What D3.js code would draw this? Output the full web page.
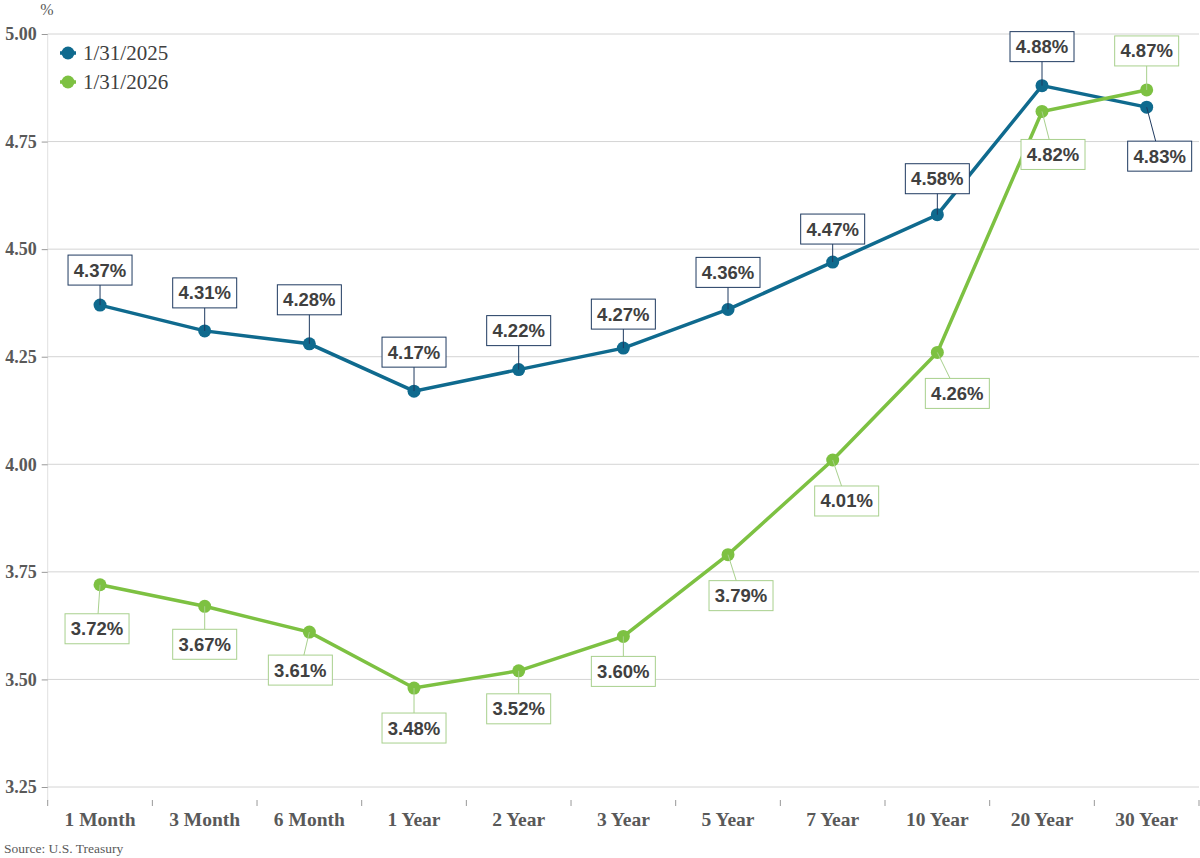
<!DOCTYPE html>
<html lang="en">
<head>
<meta charset="utf-8">
<title>Treasury Yield Curve</title>
<script src="https://d3js.org/d3.v7.min.js"></script>
<style>
  body { margin: 0; background: #fff; }
  .serif { font-family: "Liberation Serif", "DejaVu Serif", serif; }
</style>
</head>
<body>
<div id="chart"></div>
<script>
// categories and series values
const maturities = ["1 Month", "3 Month", "6 Month", "1 Year", "2 Year", "3 Year", "5 Year", "7 Year", "10 Year", "20 Year", "30 Year"]
const yields2025 = [4.37, 4.31, 4.28, 4.17, 4.22, 4.27, 4.36, 4.47, 4.58, 4.88, 4.83]
const yields2026 = [3.72, 3.67, 3.61, 3.48, 3.52, 3.60, 3.79, 4.01, 4.26, 4.82, 4.87]
const yTicks = [3.25, 3.50, 3.75, 4.00, 4.25, 4.50, 4.75, 5.00]

// label box offsets from each point (px), layout only
const off2025 = [[0,-35],[0,-38],[0,-44],[0,-39],[0,-39],[0,-34],[0,-37],[0,-33],[0,-36],[0,-39],[13,49]]
const off2026 = [[-3,44],[0,38],[-9,38],[0,40],[0,38],[0,35],[13,41],[14,41],[20,41],[11,43],[0,-39]]

const W = 1200, H = 858
const svg = d3.select("#chart").append("svg").attr("width", W).attr("height", H)

const x = d3.scaleBand().domain(maturities).range([47.7, 1199])
const y = d3.scaleLinear().domain([3.25, 5.0]).range([787, 34])
const axisY = 801

// gridlines
svg.append("g").selectAll("line").data(yTicks).join("line")
  .attr("x1", 47.7).attr("x2", 1199)
  .attr("y1", d => y(d)).attr("y2", d => y(d))
  .attr("stroke", "#d4d4d4").attr("stroke-width", 1)

// y axis
const yAxis = svg.append("g").attr("transform", "translate(47.7,0)")
  .call(d3.axisLeft(y).tickValues(yTicks).tickFormat(d3.format(".2f")).tickSize(6).tickPadding(5))
yAxis.select(".domain").attr("stroke", "#e0e0e0").attr("d", `M0,34V${axisY}`)
yAxis.selectAll(".tick line").attr("stroke", "#999")
yAxis.selectAll("text").attr("class", "serif").attr("font-size", 18).attr("font-weight", "bold").attr("fill", "#595959")

svg.append("text").attr("class", "serif").attr("x", 47).attr("y", 15)
  .attr("text-anchor", "middle").attr("font-size", 16).attr("fill", "#595959").text("%")

// x axis
const xAxis = svg.append("g").attr("transform", `translate(0,${axisY})`)
  .call(d3.axisBottom(x).tickSize(0).tickPadding(11))
xAxis.select(".domain").remove()
xAxis.selectAll("text").attr("class", "serif").attr("font-size", 19.5).attr("font-weight", "bold").attr("fill", "#595959")
svg.append("g").selectAll("line").data(d3.range(maturities.length + 1)).join("line")
  .attr("x1", i => 47.7 + i * x.step()).attr("x2", i => 47.7 + i * x.step())
  .attr("y1", axisY - 1).attr("y2", axisY + 5)
  .attr("stroke", "#999")

const cx = d => x(d) + x.bandwidth() / 2

function drawSeries(vals, color, border, offs) {
  const pts = vals.map((v, i) => ({ m: maturities[i], v: v, o: offs[i] }))
  svg.append("path").datum(pts)
    .attr("fill", "none").attr("stroke", color).attr("stroke-width", 3.5)
    .attr("d", d3.line().x(d => cx(d.m)).y(d => y(d.v)))
  svg.append("g").selectAll("circle").data(pts).join("circle")
    .attr("cx", d => cx(d.m)).attr("cy", d => y(d.v)).attr("r", 6.5).attr("fill", color)

  const lab = svg.append("g").selectAll("g").data(pts).join("g")
  lab.append("line")
    .attr("x1", d => cx(d.m)).attr("y1", d => y(d.v))
    .attr("x2", d => cx(d.m) + d.o[0]).attr("y2", d => y(d.v) + d.o[1])
    .attr("stroke", border).attr("stroke-width", 1)
  lab.append("rect")
    .attr("x", d => cx(d.m) + d.o[0] - 32).attr("y", d => y(d.v) + d.o[1] - 15)
    .attr("width", 64).attr("height", 30)
    .attr("fill", "#fff").attr("stroke", border).attr("stroke-width", 1)
  lab.append("text")
    .attr("x", d => cx(d.m) + d.o[0]).attr("y", d => y(d.v) + d.o[1] + 6.5)
    .attr("text-anchor", "middle")
    .attr("font-family", "'Liberation Sans', Arial, sans-serif").attr("font-weight", "bold")
    .attr("font-size", 18.5).attr("fill", "#404040")
    .text(d => d.v.toFixed(2) + "%")
}

drawSeries(yields2025, "#0f6a8e", "#1f3a60", off2025)
drawSeries(yields2026, "#7dc142", "#a8d08d", off2026)

// legend
const legend = [["1/31/2025", "#0f6a8e"], ["1/31/2026", "#7dc142"]]
const lg = svg.append("g").selectAll("g").data(legend).join("g")
  .attr("transform", (d, i) => `translate(68,${53 + i * 29})`)
lg.append("line").attr("x1", -8).attr("x2", 8).attr("stroke", d => d[1]).attr("stroke-width", 3.5)
lg.append("circle").attr("r", 6.5).attr("fill", d => d[1])
lg.append("text").attr("class", "serif").attr("x", 15).attr("y", 6.5)
  .attr("font-size", 21).attr("fill", "#404040").text(d => d[0])

svg.append("text").attr("class", "serif").attr("x", 4).attr("y", 853)
  .attr("font-size", 13.5).attr("fill", "#595959").text("Source: U.S. Treasury")
</script>
</body>
</html>
